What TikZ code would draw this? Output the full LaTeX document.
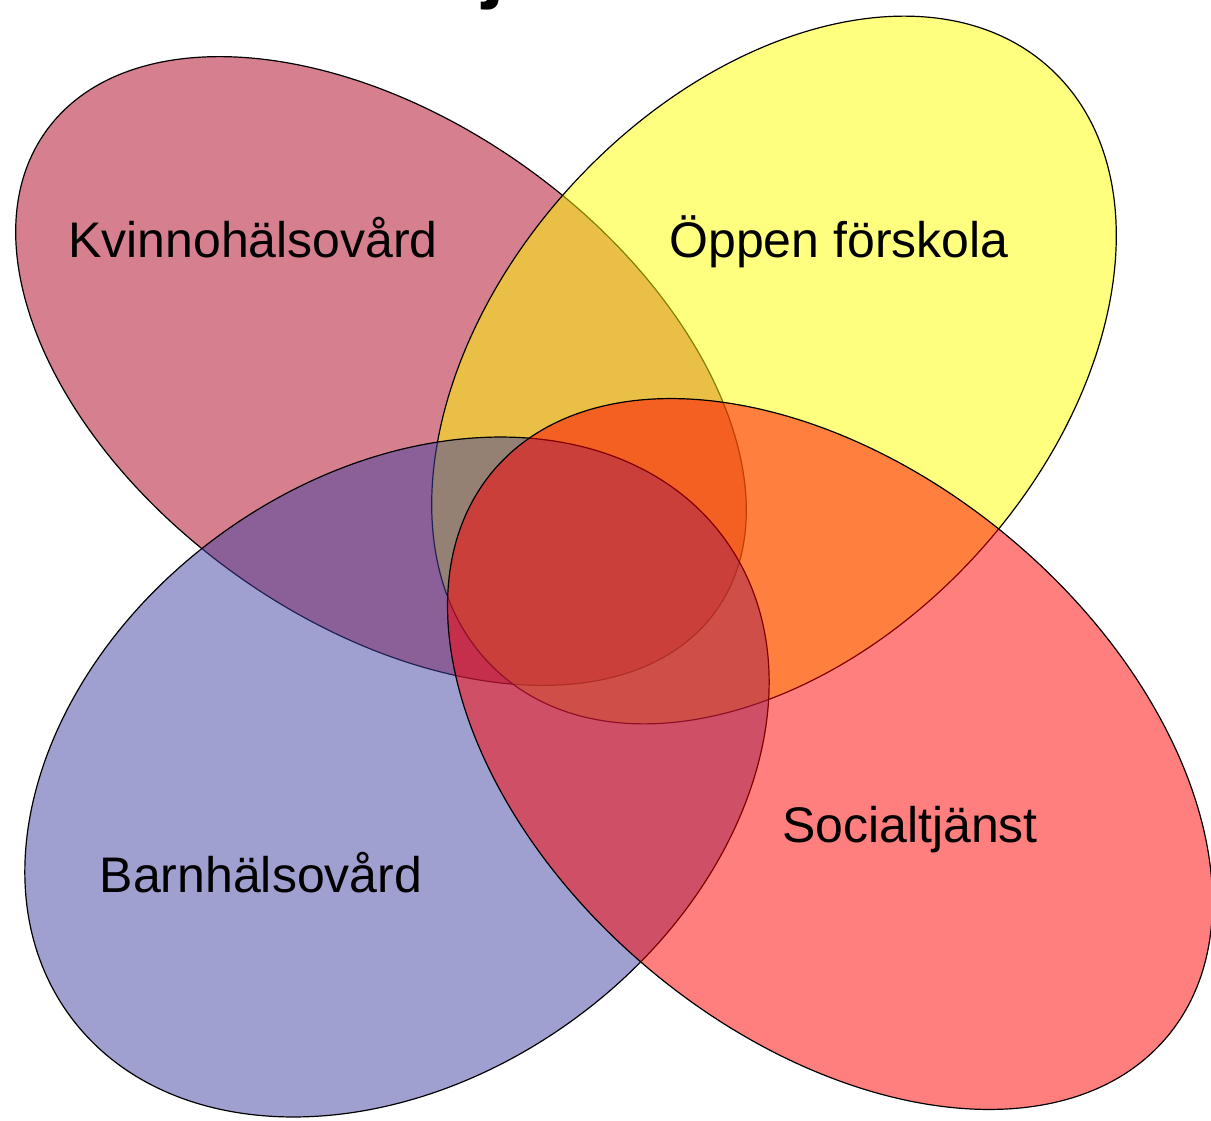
\documentclass[tikz,border=0pt]{standalone}
\usepackage{fontspec}
\setmainfont{Liberation Sans}
\usepackage{xcolor}
\definecolor{kvinno}{RGB}{175,0,30}
\definecolor{oppen}{RGB}{255,255,0}
\definecolor{barn}{RGB}{66,66,163}
\definecolor{social}{RGB}{255,0,0}
\tikzset{
  area/.style    = { draw=black, line width=0.6pt, fill=#1, fill opacity=0.5 },
  caption/.style = { anchor=base, inner sep=0pt, font=\fontsize{25}{30}\selectfont }
}

\begin{document}
\begin{tikzpicture}[x=0.5pt, y=-0.5pt]
\useasboundingbox (0,0) rectangle (1211,1120);
\fill[white] (0,0) rectangle (1211,1120);
% title, cut off at the top
\node[anchor=base west, inner sep=0pt, font=\fontsize{40}{48}\selectfont\bfseries] (title) at (482,-7) {j};
% Kvinnohalsovard
\draw[area=kvinno, rotate around={-35.6:(381,371)}] (381,371) ellipse [x radius=412, y radius=250];
% Oppen forskola
\draw[area=oppen, rotate around={47.5:(774,370)}] (774,370) ellipse [x radius=409, y radius=274];
% Barnhalsovard
\draw[area=barn, rotate around={36:(397,777)}] (397,777) ellipse [x radius=405, y radius=300];
% Socialtjanst
\draw[area=social, rotate around={-40:(830,754)}] (830,754) ellipse [x radius=440, y radius=281];
% names
\node[caption] (kvinno) at (253,257) {Kvinnohälsovård};
\node[caption] (oppen)  at (839,257) {Öppen förskola};
\node[caption] (barn)   at (261,892) {Barnhälsovård};
\node[caption] (social) at (910,842) {Socialtjänst};
\end{tikzpicture}
\end{document}
